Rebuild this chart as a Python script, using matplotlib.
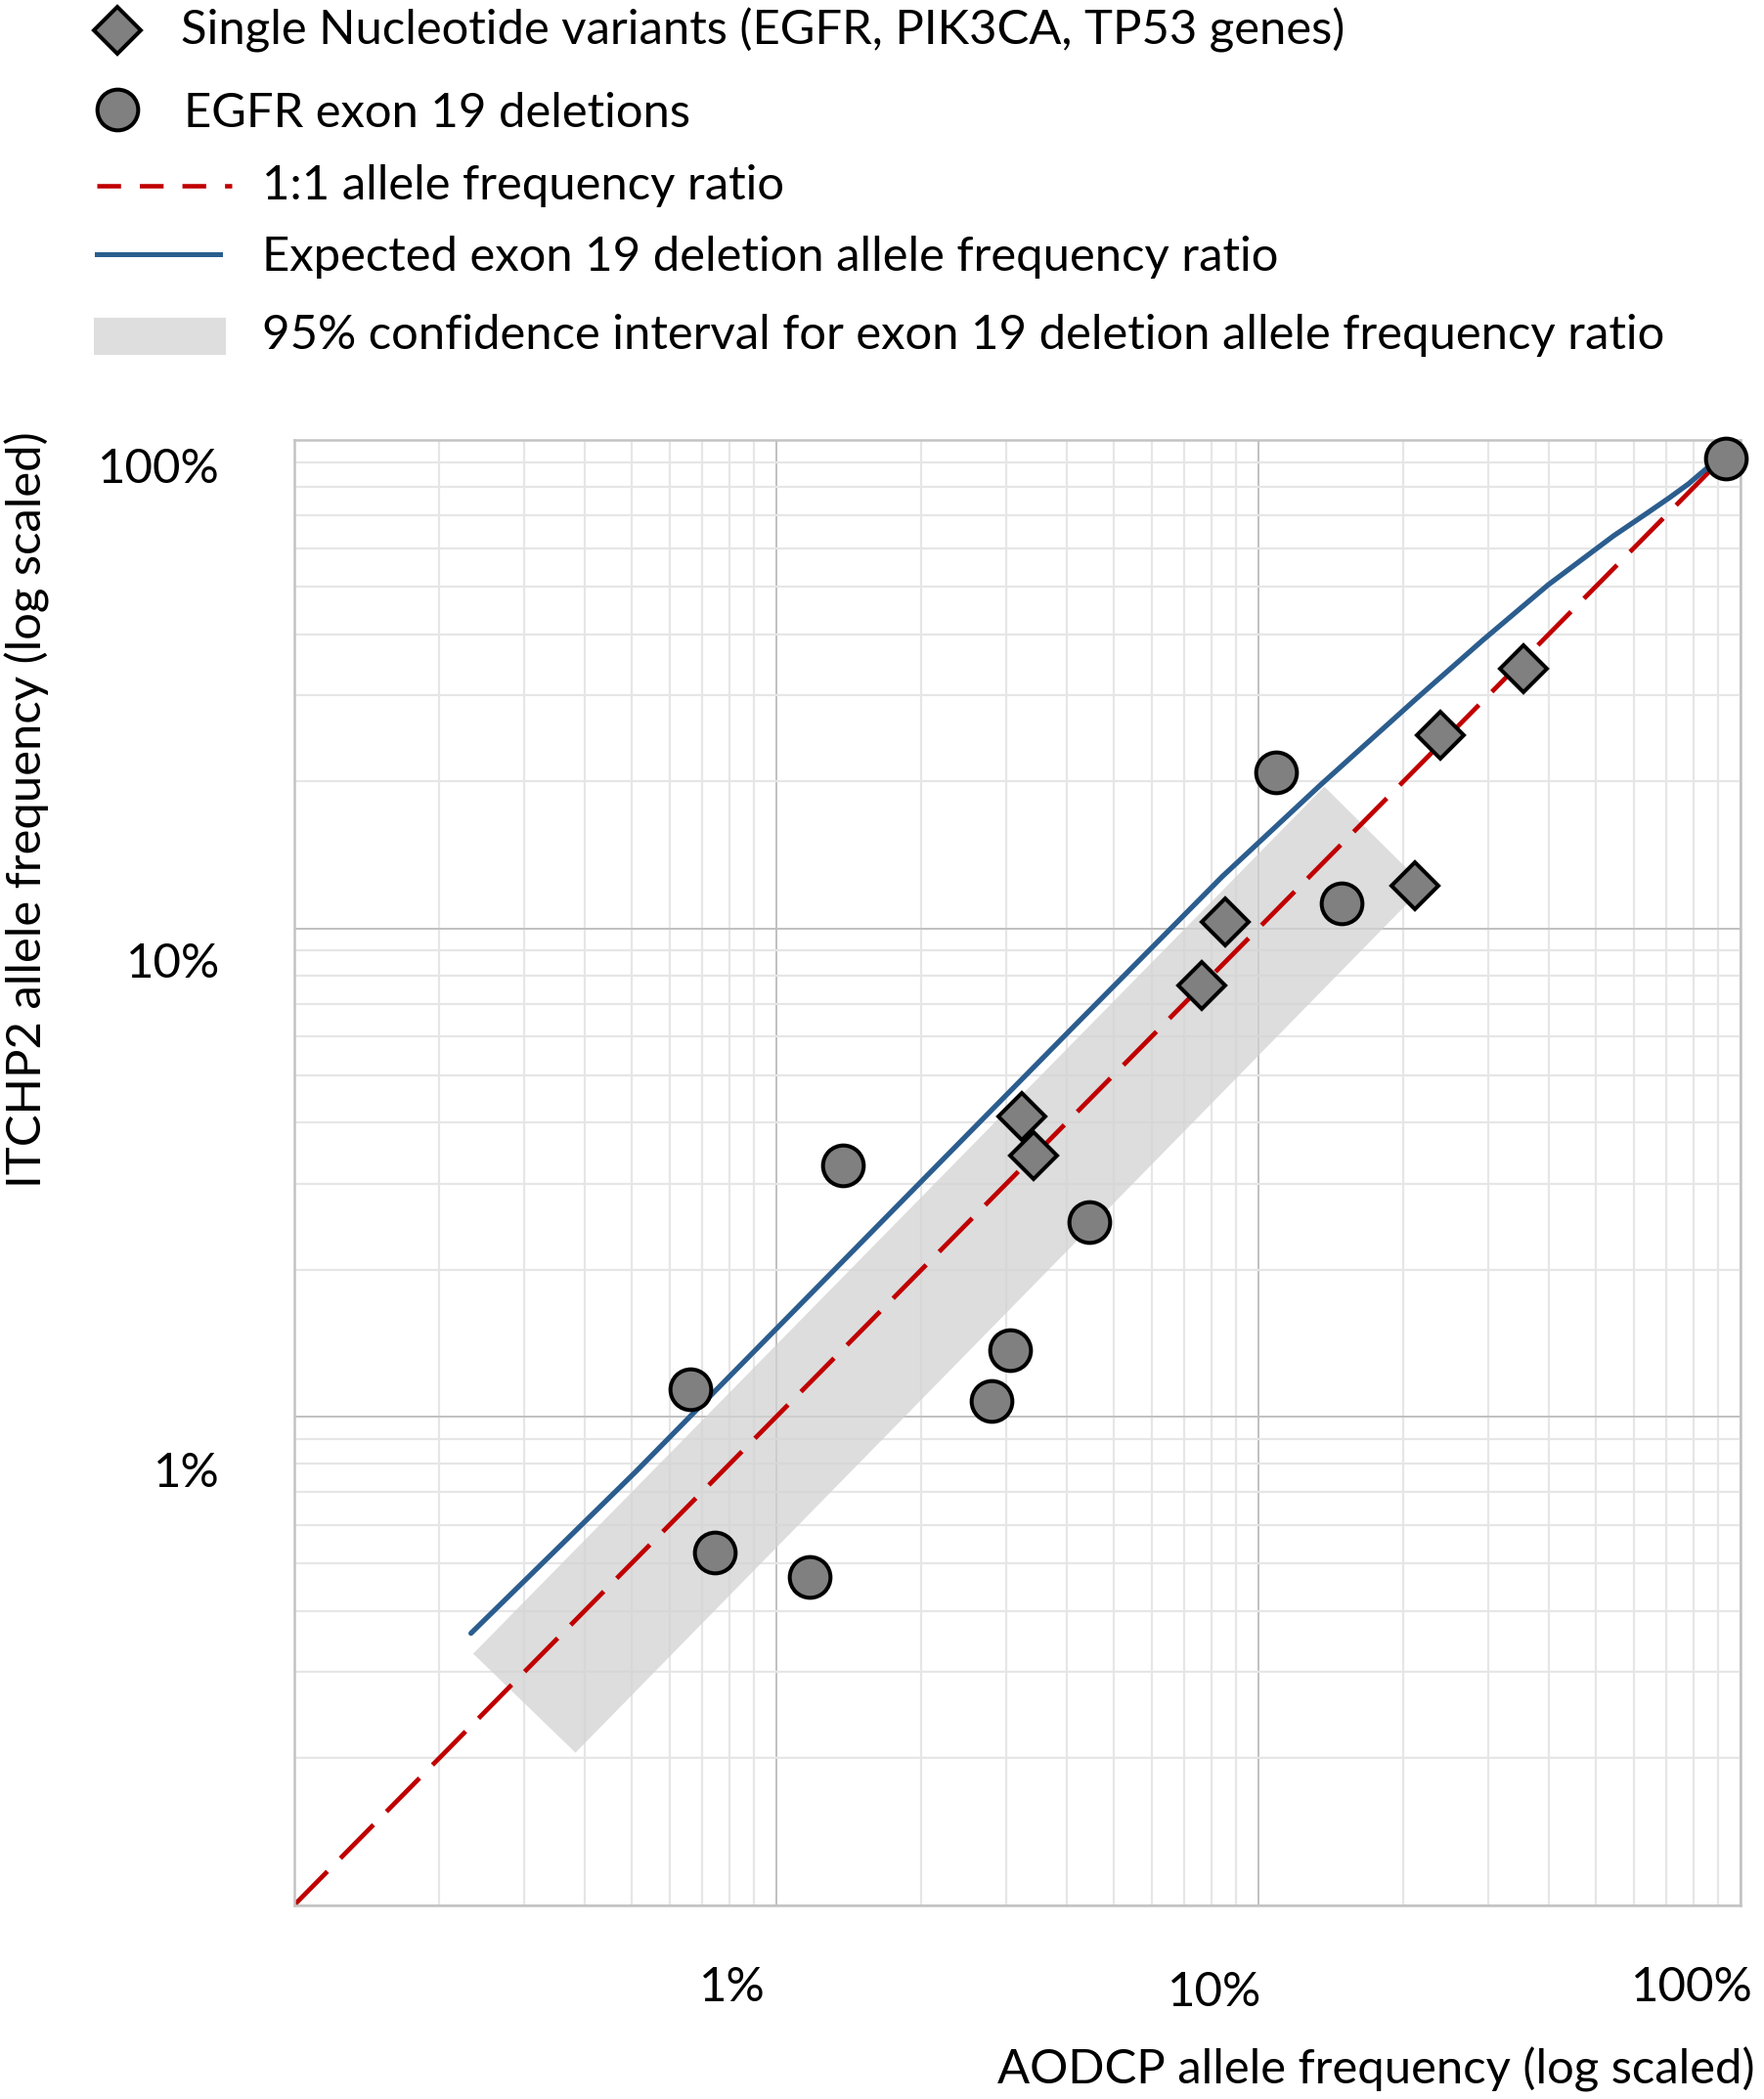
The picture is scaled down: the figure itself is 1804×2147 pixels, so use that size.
import numpy as np
import matplotlib
matplotlib.use("Agg")
import matplotlib.pyplot as plt
from matplotlib.ticker import LogLocator, NullFormatter
from matplotlib.lines import Line2D
from matplotlib.patches import Rectangle

# ---------------- data (allele frequencies in %) ----------------
snv_x = [35.5, 23.8, 21.1, 8.55, 7.64, 3.23, 3.42]
snv_y = [34.0, 24.9, 12.2, 10.3, 7.65, 4.11, 3.42]

del_x = [93.2, 10.9, 14.9, 1.375, 4.46, 3.05, 2.79, 0.662, 0.745, 1.17]
del_y = [91.5, 20.9, 11.25, 3.27, 2.50, 1.366, 1.078, 1.14, 0.528, 0.469]

ref_x = [0.1, 93.2]
ref_y = [0.1, 93.2]

exp_x = [0.2325, 0.51, 4.15, 8.41, 13.42, 21.4, 29.2, 39.9, 54.5, 63.7, 71.0, 78.0, 84.9, 90.0]
exp_y = [0.360, 0.77, 6.31, 12.76, 19.62, 29.7, 38.9, 50.5, 63.6, 70.6, 76.0, 81.3, 87.3, 91.5]

ci_x = [0.235, 13.7, 22.1, 0.383]
ci_y = [0.327, 19.5, 12.2, 0.205]

tick_vals = [1, 10, 100]
tick_labels = ["1%", "10%", "100%"]

legend_labels = ["Single Nucleotide variants (EGFR, PIK3CA, TP53 genes)",
                 "EGFR exon 19 deletions",
                 "1:1 allele frequency ratio",
                 "Expected exon 19 deletion allele frequency ratio",
                 "95% confidence interval for exon 19 deletion allele frequency ratio"]
x_title = "AODCP allele frequency (log scaled)"
y_title = "ITCHP2 allele frequency (log scaled)"

# ---------------- styles ----------------
W, H = 1804, 2147
FAM = ["Lato", "DejaVu Sans"]
RED = "#c00000"
BLUE = "#2b5d8e"
BAND = "#d2d2d2"
MARK_FACE = "#808080"

fig = plt.figure(figsize=(W / 100, H / 100), dpi=100)
renderer = fig.canvas.get_renderer()


def fx(px):
    return px / W


def fy(py):
    return 1 - py / H


def fit_size(text, target_px):
    t = fig.text(0, 0, text, fontsize=40, family=FAM)
    w = t.get_window_extent(renderer).width
    t.remove()
    return 40 * target_px / w


FS = fit_size(legend_labels[4], 1436)

# ---------------- axes ----------------
left, right, top, bottom = 301, 1780, 450, 1948.5
ax = fig.add_axes([fx(left), fy(bottom), (right - left) / W, (bottom - top) / H])
ax.set_xscale("log")
ax.set_yscale("log")
ax.set_xlim(0.1, 100)
ax.set_ylim(0.1, 100)
for axis in (ax.xaxis, ax.yaxis):
    axis.set_major_locator(LogLocator(base=10, numticks=10))
    axis.set_minor_locator(LogLocator(base=10, subs=np.arange(2, 10), numticks=100))
    axis.set_minor_formatter(NullFormatter())
ax.tick_params(which="both", length=0, labelbottom=False, labelleft=False)
ax.set_axisbelow(True)
ax.grid(which="minor", color="#e6e6e6", lw=1.6)
ax.grid(which="major", color="#c0c0c0", lw=1.4)
for s in ax.spines.values():
    s.set_color("#c4c4c4")
    s.set_linewidth(1.8)

# confidence band
ax.fill(ci_x, ci_y, color=BAND, alpha=0.75, lw=0, zorder=1)
# 1:1 line
ax.plot(ref_x, ref_y, color=RED, lw=3.4, dashes=(10.2, 4.0), zorder=2)
# expected line
ax.plot(exp_x, exp_y, color=BLUE, lw=3.8, solid_capstyle="round",
        solid_joinstyle="round", zorder=3)
# markers
ax.plot(snv_x, snv_y, ls="none", marker="D", ms=24.5, mfc=MARK_FACE, mec="black",
        mew=2.9, zorder=5, clip_on=False)
ax.plot(del_x, del_y, ls="none", marker="o", ms=30, mfc=MARK_FACE, mec="black",
        mew=2.9, zorder=5, clip_on=False)

# tick labels (Excel-style placement)
ytick_pos = [(225, 1521), (225, 1000), (225, 494.5)]
for (px, py), lab in zip(ytick_pos, tick_labels):
    fig.text(fx(px), fy(py), lab, ha="right", va="baseline", fontsize=FS, family=FAM)
xtick_pos = [(749, 2047), (1242, 2052), (1730, 2047)]
for (px, py), lab in zip(xtick_pos, tick_labels):
    fig.text(fx(px), fy(py), lab, ha="center", va="baseline", fontsize=FS, family=FAM)

# axis titles
fig.text(fx(1795), fy(2131), x_title, ha="right", va="baseline", fontsize=FS, family=FAM)
fig.text(fx(43), fy(828.5), y_title, ha="center", va="baseline", rotation=90,
         rotation_mode="anchor", fontsize=FS, family=FAM)

# ---------------- legend (manual, figure pixel layout) ----------------
lax = fig.add_axes([0, 0, 1, 1])
lax.set_xlim(0, W)
lax.set_ylim(H, 0)
lax.axis("off")
lax.set_zorder(-1)

lax.add_line(Line2D([120], [31], ls="none", marker="D", ms=24.5, mfc=MARK_FACE,
                    mec="black", mew=2.9))
lax.add_line(Line2D([120], [112], ls="none", marker="o", ms=30, mfc=MARK_FACE,
                    mec="black", mew=2.9))
lax.add_line(Line2D([99, 237], [190, 190], color=RED, lw=3.3, dashes=(5.3, 4.2)))
lax.add_line(Line2D([99, 225], [260, 260], color=BLUE, lw=3.6))
lax.add_patch(Rectangle((96, 325), 135, 38, color="#dedede", lw=0))

leg_pos = [(185, 45), (188, 130), (268, 204), (268, 277), (268, 357)]
for (px, py), lab in zip(leg_pos, legend_labels):
    fig.text(fx(px), fy(py), lab, ha="left", va="baseline", fontsize=FS, family=FAM)

fig.savefig("out.png", dpi=100)
